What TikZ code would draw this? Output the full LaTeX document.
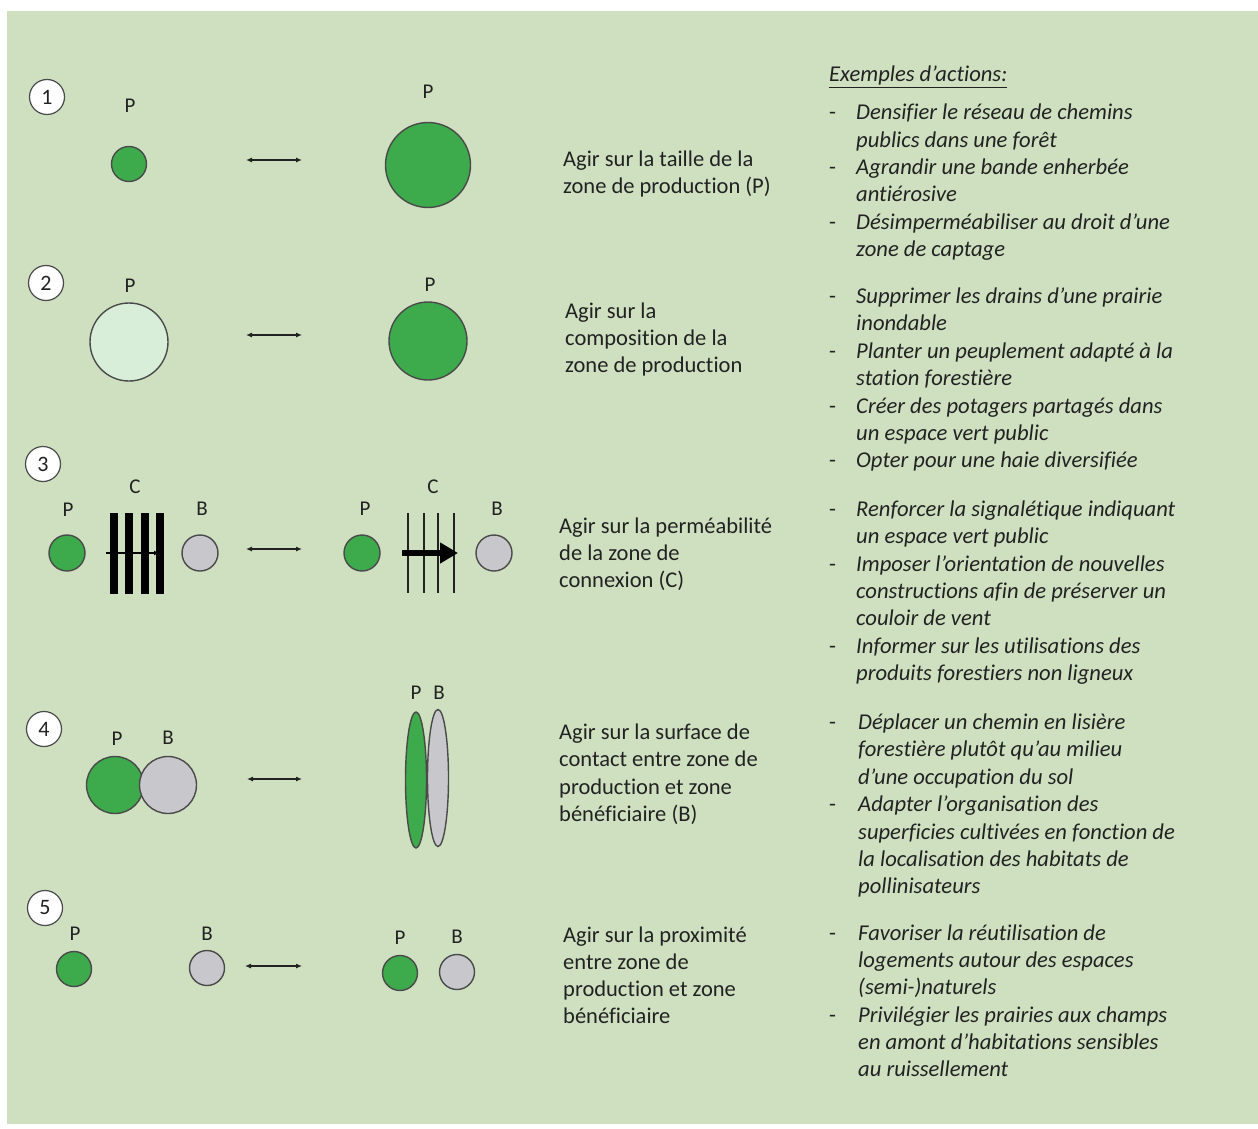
\documentclass[tikz,border=0pt]{standalone}
\usepackage{fontspec}
\setmainfont{Carlito}[Ligatures={NoCommon}]
\usetikzlibrary{arrows.meta,shapes.geometric}
\definecolor{bgc}{HTML}{CFE0C1}
\definecolor{pgreen}{HTML}{3DAA4B}
\definecolor{pgray}{HTML}{C8C8CC}
\definecolor{plight}{HTML}{D8EED8}
\definecolor{edgec}{HTML}{4A4A4A}
\definecolor{txtc}{HTML}{222222}
\tikzset{
  txt/.style={anchor=base west,inner sep=0,text=txtc,font=\fontsize{22.5}{27}\selectfont},
  itx/.style={txt,font=\fontsize{22.6}{27}\selectfont\itshape},
  lbl/.style={inner sep=0,text=txtc,font=\fontsize{21}{24}\selectfont},
  badge/.style={circle,draw=edgec,line width=1.2pt,fill=white,minimum size=35pt,inner sep=0,text=txtc,font=\fontsize{22}{24}\selectfont},
  zoneP/.style={circle,draw=edgec,line width=1.4pt,fill=pgreen,inner sep=0},
  zoneB/.style={circle,draw=edgec,line width=1.4pt,fill=pgray,inner sep=0},
  zoneL/.style={circle,draw=edgec,line width=1.4pt,fill=plight,inner sep=0},
  dblarrow/.style={line width=1.1pt,draw=txtc,{Latex[length=6pt,width=5pt]}-{Latex[length=6pt,width=5pt]}},
  bar/.style={line width=8pt,draw=black},
  thinbar/.style={line width=1.4pt,draw=txtc}
}
\begin{document}
\begin{tikzpicture}[x=1pt,y=-1pt]
\useasboundingbox (0,0) rectangle (1258,1129);
\fill[white] (0,0) rectangle (1258,1129);
\fill[bgc] (7,11) rectangle (1258,1124);

% ---------- Row 1 ----------
\node[badge] (b1) at (47,97) {1};
\node[lbl] (p1l) at (130,106) {P};
\node[zoneP,minimum size=35pt] (c1l) at (129,164) {};
\node[lbl] (p1r) at (428,92) {P};
\node[zoneP,minimum size=85pt] (c1r) at (428,165) {};
\coordinate (a1s) at (246,160); \coordinate (a1e) at (302,160);
\draw[dblarrow] (a1s) -- (a1e);
\node[txt] (t1a) at (563,166) {Agir sur la taille de la};
\node[txt] (t1b) at (563,193) {zone de production (P)};

% ---------- Row 2 ----------
\node[badge] (b2) at (46,283) {2};
\node[lbl] (p2l) at (130,286) {P};
\node[zoneL,minimum size=78pt] (c2l) at (129,342) {};
\node[lbl] (p2r) at (430,285) {P};
\node[zoneP,minimum size=78pt] (c2r) at (428,341) {};
\coordinate (a2s) at (246,335); \coordinate (a2e) at (302,335);
\draw[dblarrow] (a2s) -- (a2e);
\node[txt] (t2a) at (565,318) {Agir sur la};
\node[txt] (t2b) at (565,345) {composition de la};
\node[txt] (t2c) at (565,372) {zone de production};

% ---------- Row 3 ----------
\node[badge] (b3) at (43,464) {3};
\node[lbl] (p3l) at (68,510) {P};
\node[lbl] (c3l) at (135,487) {C};
\node[lbl] (bb3l) at (202,509) {B};
\node[zoneP,minimum size=36pt] (g3l) at (67,553) {};
\node[zoneB,minimum size=36pt] (y3l) at (200,553) {};
\foreach \x in {114,129,144.5,160} \draw[bar] (\x,513) -- (\x,594);
\coordinate (h3s) at (106,553); \coordinate (h3e) at (159,553);
\draw[line width=1.3pt,-{Latex[length=5pt,width=5pt]}] (h3s) -- (h3e);
\coordinate (a3s) at (246,549); \coordinate (a3e) at (302,549);
\draw[dblarrow] (a3s) -- (a3e);
\node[lbl] (p3r) at (365,509) {P};
\node[lbl] (c3r) at (433,487) {C};
\node[lbl] (bb3r) at (497,509) {B};
\node[zoneP,minimum size=36pt] (g3r) at (362,553) {};
\node[zoneB,minimum size=36pt] (y3r) at (494,553) {};
\foreach \x in {408,424,438,454} \draw[thinbar] (\x,513) -- (\x,593);
\coordinate (k3s) at (402,553); \coordinate (k3e) at (458,553);
\draw[line width=6pt,-{Triangle[length=18pt,width=20pt]}] (k3s) -- (k3e);
\node[txt] (t3a) at (559,533) {Agir sur la perméabilité};
\node[txt] (t3b) at (559,560) {de la zone de};
\node[txt] (t3c) at (559,587) {connexion (C)};

% ---------- Row 4 ----------
\node[badge] (b4) at (44,729) {4};
\node[lbl] (p4l) at (117,739) {P};
\node[lbl] (bb4l) at (168,738) {B};
\node[zoneP,minimum size=57pt] (g4l) at (115,785) {};
\node[zoneB,minimum size=57pt] (y4l) at (168,785) {};
\coordinate (a4s) at (247,779); \coordinate (a4e) at (302,779);
\draw[dblarrow] (a4s) -- (a4e);
\node[lbl] (p4r) at (416,693) {P};
\node[lbl] (bb4r) at (439,693) {B};
\node[ellipse,draw=edgec,line width=1.4pt,fill=pgray,inner sep=0,minimum width=21pt,minimum height=137pt] (y4r) at (438,778) {};
\node[ellipse,draw=edgec,line width=1.4pt,fill=pgreen,inner sep=0,minimum width=21pt,minimum height=136pt] (g4r) at (416,780) {};
\node[txt] (t4a) at (559,739) {Agir sur la surface de};
\node[txt] (t4b) at (559,766) {contact entre zone de};
\node[txt] (t4c) at (559,794) {production et zone};
\node[txt] (t4d) at (559,821) {bénéficiaire (B)};

% ---------- Row 5 ----------
\node[badge] (b5) at (45,908) {5};
\node[lbl] (p5l) at (75,934) {P};
\node[lbl] (bb5l) at (207,934) {B};
\node[zoneP,minimum size=35pt] (g5l) at (74,969) {};
\node[zoneB,minimum size=35pt] (y5l) at (207,968) {};
\coordinate (a5s) at (245,966); \coordinate (a5e) at (302,966);
\draw[dblarrow] (a5s) -- (a5e);
\node[lbl] (p5r) at (400,938) {P};
\node[lbl] (bb5r) at (457,937) {B};
\node[zoneP,minimum size=35pt] (g5r) at (400,973) {};
\node[zoneB,minimum size=35pt] (y5r) at (457,972) {};
\node[txt] (t5a) at (563,942) {Agir sur la proximité};
\node[txt] (t5b) at (563,969) {entre zone de};
\node[txt] (t5c) at (563,996) {production et zone};
\node[txt] (t5d) at (563,1023) {bénéficiaire};

% ---------- Right column ----------
\node[itx] (hdr) at (829,82) {\underline{Exemples d’actions:}};
\foreach \y in {120,174,229,303,358,413,467,516,571,653,729,811,940,1022}
  \node[txt] at (829,\y) {-};
\node[itx] (e01) at (856,120) {Densifier le réseau de chemins};
\node[itx] (e02) at (856,147) {publics dans une forêt};
\node[itx] (e03) at (856,174) {Agrandir une bande enherbée};
\node[itx] (e04) at (856,201) {antiérosive};
\node[itx] (e05) at (856,229) {Désimperméabiliser au droit d’une};
\node[itx] (e06) at (856,256) {zone de captage};
\node[itx] (e07) at (856,303) {Supprimer les drains d’une prairie};
\node[itx] (e08) at (856,330) {inondable};
\node[itx] (e09) at (856,358) {Planter un peuplement adapté à la};
\node[itx] (e10) at (856,385) {station forestière};
\node[itx] (e11) at (856,413) {Créer des potagers partagés dans};
\node[itx] (e12) at (856,440) {un espace vert public};
\node[itx] (e13) at (856,467) {Opter pour une haie diversifiée};
\node[itx] (e14) at (856,516) {Renforcer la signalétique indiquant};
\node[itx] (e15) at (856,543) {un espace vert public};
\node[itx] (e16) at (856,571) {Imposer l’orientation de nouvelles};
\node[itx] (e17) at (856,598) {constructions afin de préserver un};
\node[itx] (e18) at (856,625) {couloir de vent};
\node[itx] (e19) at (856,653) {Informer sur les utilisations des};
\node[itx] (e20) at (856,680) {produits forestiers non ligneux};
\node[itx] (e21) at (858,729) {Déplacer un chemin en lisière};
\node[itx] (e22) at (858,756) {forestière plutôt qu’au milieu};
\node[itx] (e23) at (858,784) {d’une occupation du sol};
\node[itx] (e24) at (858,811) {Adapter l’organisation des};
\node[itx] (e25) at (858,839) {superficies cultivées en fonction de};
\node[itx] (e26) at (858,866) {la localisation des habitats de};
\node[itx] (e27) at (858,893) {pollinisateurs};
\node[itx] (e28) at (858,940) {Favoriser la réutilisation de};
\node[itx] (e29) at (858,967) {logements autour des espaces};
\node[itx] (e30) at (858,994) {(semi-)naturels};
\node[itx] (e31) at (858,1022) {Privilégier les prairies aux champs};
\node[itx] (e32) at (858,1049) {en amont d’habitations sensibles};
\node[itx] (e33) at (858,1076) {au ruissellement};
\end{tikzpicture}
\end{document}
